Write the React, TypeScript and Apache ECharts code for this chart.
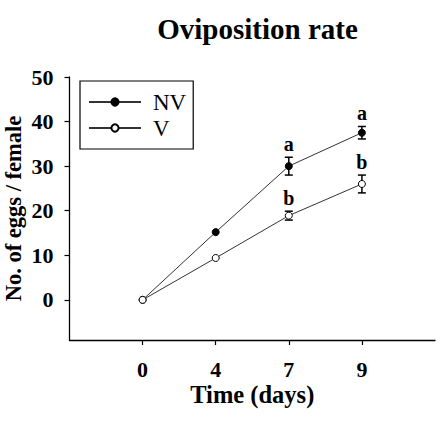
import React, { useEffect, useRef } from "react";
import * as echarts from "echarts";

const dayLabels = ["0", "4", "7", "9"];
const nvMeans = [0, 15.2, 30, 37.5];
const nvErrors = [0, 0, 2, 1.4];
const nvLetters = ["", "", "a", "a"];
const vMeans = [0, 9.4, 18.9, 26];
const vErrors = [0, 0, 1, 2];
const vLetters = ["", "", "b", "b"];
const yTicks = [0, 10, 20, 30, 40, 50];

const FONT = "'Liberation Serif', 'Times New Roman', serif";

export default function App() {
  const ref = useRef<HTMLDivElement>(null);
  useEffect(() => {
    if (!ref.current) return;
    const chart = echarts.init(ref.current, undefined, { renderer: "svg" });

    const errData = (means: number[], errs: number[], letters: string[]) =>
      means.map((m, i) => [i, m, errs[i], letters[i]]);

    const renderErr = (params: any, api: any) => {
      const x = api.value(0);
      const m = api.value(1);
      const e = api.value(2);
      const letter = api.value(3);
      const top = api.coord([x, m + e]);
      const bot = api.coord([x, m - e]);
      const children: any[] = [];
      const ls = { stroke: "#000", lineWidth: 1.5 };
      if (e > 0) {
        children.push(
          { type: "line", shape: { x1: top[0], y1: top[1], x2: bot[0], y2: bot[1] }, style: ls },
          { type: "line", shape: { x1: top[0] - 4, y1: top[1], x2: top[0] + 4, y2: top[1] }, style: ls },
          { type: "line", shape: { x1: bot[0] - 4, y1: bot[1], x2: bot[0] + 4, y2: bot[1] }, style: ls }
        );
      }
      if (letter) {
        children.push({
          type: "text",
          x: top[0],
          y: top[1] - 3,
          style: {
            text: String(letter),
            fill: "#000",
            font: `bold 20px ${FONT}`,
            align: "center",
            verticalAlign: "bottom",
          },
        });
      }
      return { type: "group", children };
    };

    chart.setOption({
      animation: false,
      backgroundColor: "#fff",
      textStyle: { fontFamily: FONT },
      title: {
        text: "Oviposition rate",
        left: 252.5,
        top: 9,
        textAlign: "center",
        textStyle: { fontFamily: FONT, fontWeight: "bold", fontSize: 29, color: "#000" },
      },
      legend: {
        orient: "vertical",
        left: 80,
        top: 81,
        padding: [9.5, 7, 9.5, 8],
        itemGap: 3,
        itemWidth: 52,
        itemHeight: 9,
        borderColor: "#000",
        borderWidth: 1.2,
        borderRadius: 0,
        data: ["NV", "V"],
        textStyle: { fontFamily: FONT, fontSize: 23, color: "#000", padding: [0, 0, 0, 7] },
      },
      grid: { left: 69.5, right: 12, top: 77, bottom: 107, containLabel: false, outerBoundsMode: "none" },
      xAxis: {
        type: "value",
        min: -1,
        max: 4,
        splitLine: { show: false },
        axisLine: { onZero: false, lineStyle: { color: "#000", width: 1.3 } },
        axisTick: { show: true, length: 5, customValues: [0, 1, 2, 3], lineStyle: { color: "#000", width: 1.2 } },
        axisLabel: {
          customValues: [0, 1, 2, 3],
          formatter: (v: number) => dayLabels[Math.round(v)] ?? "",
          margin: 18,
          color: "#000",
          fontFamily: FONT,
          fontWeight: "bold",
          fontSize: 22,
        },
        name: "Time (days)",
        nameLocation: "middle",
        nameGap: 42,
        nameMoveOverlap: false,
        nameTextStyle: { fontFamily: FONT, fontWeight: "bold", fontSize: 24.5, color: "#000" },
      },
      yAxis: {
        type: "value",
        min: -9,
        max: 50,
        splitLine: { show: false },
        axisLine: { show: true, onZero: false, lineStyle: { color: "#000", width: 1.3 } },
        axisTick: { show: true, length: 5, customValues: yTicks, lineStyle: { color: "#000", width: 1.2 } },
        axisLabel: {
          customValues: yTicks,
          margin: 16,
          color: "#000",
          fontFamily: FONT,
          fontWeight: "bold",
          fontSize: 22,
        },
        name: "No. of eggs / female",
        nameLocation: "middle",
        nameGap: 45,
        nameMoveOverlap: false,
        nameTextStyle: { fontFamily: FONT, fontWeight: "bold", fontSize: 22.5, color: "#000" },
      },
      series: [
        {
          name: "NV-err",
          type: "custom",
          z: 1,
          renderItem: renderErr,
          data: errData(nvMeans, nvErrors, nvLetters),
          encode: { x: 0, y: 1 },
          silent: true,
        },
        {
          name: "V-err",
          type: "custom",
          z: 1,
          renderItem: renderErr,
          data: errData(vMeans, vErrors, vLetters),
          encode: { x: 0, y: 1 },
          silent: true,
        },
        {
          name: "NV",
          type: "line",
          z: 3,
          data: nvMeans.map((v, i) => [i, v]),
          symbol: "circle",
          symbolSize: 7,
          showAllSymbol: true,
          lineStyle: { color: "#333", width: 1 },
          itemStyle: { color: "#000", borderColor: "#000", borderWidth: 1 },
        },
        {
          name: "V",
          type: "line",
          z: 4,
          data: vMeans.map((v, i) => [i, v]),
          symbol: "circle",
          symbolSize: 7,
          showAllSymbol: true,
          lineStyle: { color: "#333", width: 1 },
          itemStyle: { color: "#fff", borderColor: "#000", borderWidth: 1 },
        },
      ],
    });
    return () => chart.dispose();
  }, []);
  return <div ref={ref} style={{ width: 447, height: 447, position: "absolute", left: 0, top: 0 }} />;
}
